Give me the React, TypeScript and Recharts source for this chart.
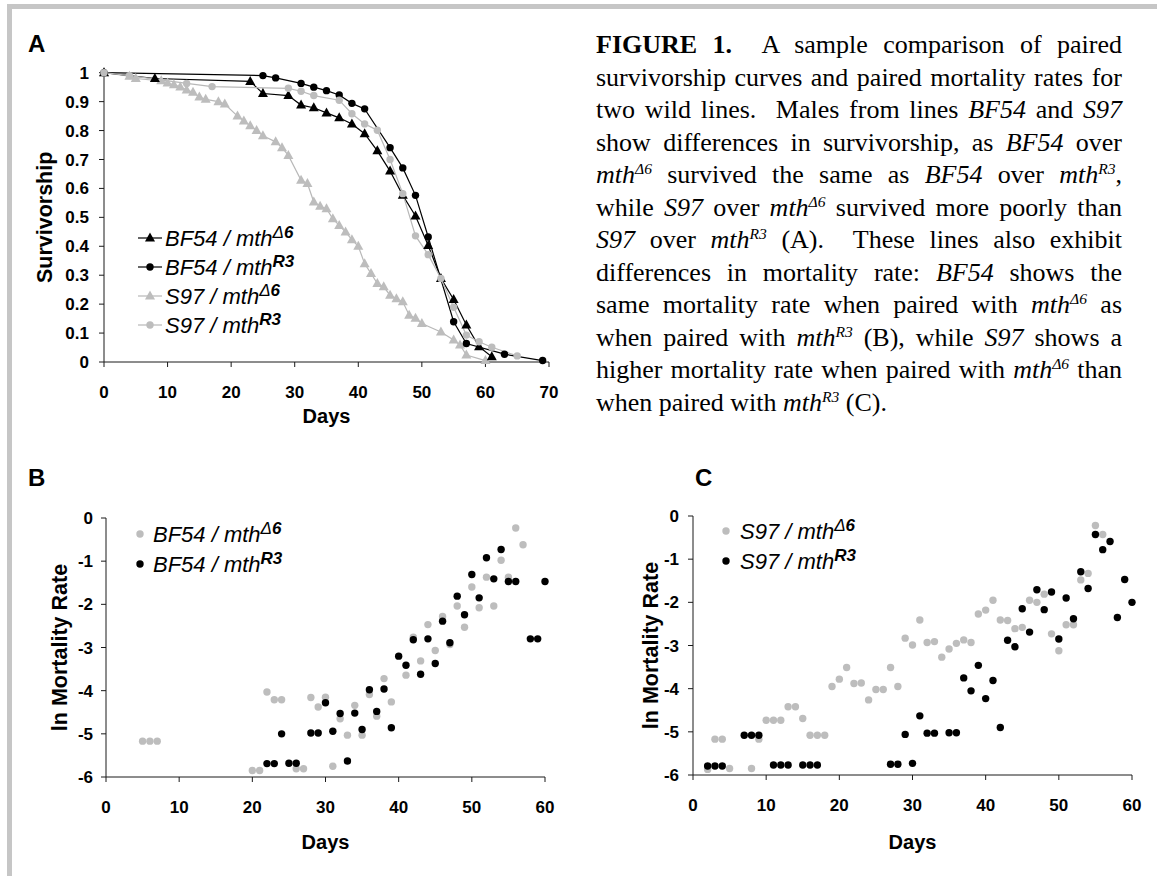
import React from 'react';
import { LineChart, Line, XAxis, YAxis, ScatterChart, Scatter, Legend } from 'recharts';

const FONT = '"Liberation Sans", Arial, Helvetica, sans-serif';
const SERIF = '"Liberation Serif", "Times New Roman", Times, serif';
const BLACK = '#000000';
const GRAY = '#bdbdbd';
const LINE_GRAY = '#b8b8b8';
const AXIS = '#1a1a1a';

// ---------- Panel A: survivorship ----------
const bf54D6Days = [0, 8, 23, 25, 29, 31, 33, 35, 37, 39, 41, 43, 45, 47, 49, 51, 53, 55, 57, 59, 61];
const bf54D6Surv = [1, 0.98, 0.97, 0.928, 0.921, 0.888, 0.879, 0.861, 0.844, 0.823, 0.789, 0.73, 0.66, 0.576, 0.505, 0.403, 0.289, 0.216, 0.128, 0.053, 0.018];

const bf54R3Days = [0, 25, 27, 31, 33, 35, 37, 39, 41, 45, 47, 49, 51, 55, 57, 63, 69];
const bf54R3Surv = [1, 0.99, 0.982, 0.963, 0.95, 0.938, 0.923, 0.894, 0.875, 0.741, 0.671, 0.576, 0.432, 0.139, 0.064, 0.027, 0.005];

const s97D6Days = [0, 4, 5, 9, 10, 11, 12, 13, 14, 15, 16, 18, 19, 21, 22, 23, 24, 25, 27, 28, 29, 31, 32, 33, 34, 35, 36, 37, 38, 39, 40, 41, 42, 43, 44, 45, 46, 47, 48, 49, 50, 53, 55, 56, 57, 60];
const s97D6Surv = [1, 0.988, 0.98, 0.972, 0.964, 0.958, 0.951, 0.94, 0.932, 0.916, 0.908, 0.9, 0.892, 0.85, 0.833, 0.817, 0.8, 0.782, 0.761, 0.741, 0.714, 0.628, 0.617, 0.553, 0.538, 0.53, 0.495, 0.472, 0.449, 0.423, 0.4, 0.34, 0.306, 0.271, 0.26, 0.231, 0.219, 0.208, 0.162, 0.151, 0.133, 0.104, 0.076, 0.059, 0.024, 0.005];

const s97R3Days = [0, 4, 13, 17, 29, 31, 33, 37, 39, 41, 43, 45, 47, 49, 51, 53, 55, 57, 59, 61, 65];
const s97R3Surv = [1, 0.99, 0.963, 0.952, 0.946, 0.936, 0.921, 0.905, 0.858, 0.823, 0.801, 0.7, 0.582, 0.436, 0.371, 0.289, 0.189, 0.093, 0.07, 0.051, 0.021];

const survDayTicks = [0, 10, 20, 30, 40, 50, 60, 70];
const survTicks = [0, 0.1, 0.2, 0.3, 0.4, 0.5, 0.6, 0.7, 0.8, 0.9, 1];

// ---------- Panel B: BF54 ln mortality ----------
const bf54D6MortDays = [5, 6, 7, 20, 21, 22, 23, 24, 26, 27, 28, 29, 30, 31, 32, 33, 34, 35, 36, 37, 38, 39, 41, 42, 43, 44, 45, 46, 47, 48, 49, 50, 51, 52, 53, 54, 55, 56, 57];
const bf54D6Mort = [-5.17, -5.17, -5.17, -5.85, -5.85, -4.03, -4.21, -4.21, -5.81, -5.81, -4.16, -4.38, -4.15, -5.75, -4.65, -5.03, -4.34, -5.03, -4.09, -4.59, -3.72, -4.26, -3.64, -2.76, -3.31, -2.47, -3.07, -2.28, -2.93, -2.04, -2.53, -1.6, -2.08, -1.37, -2.04, -0.98, -1.37, -0.23, -0.62];

const bf54R3MortDays = [22, 23, 24, 25, 26, 28, 29, 30, 31, 32, 33, 34, 35, 36, 37, 38, 39, 40, 41, 42, 43, 44, 45, 46, 47, 48, 49, 50, 51, 52, 53, 54, 55, 56, 58, 59, 60];
const bf54R3Mort = [-5.69, -5.69, -5.0, -5.68, -5.68, -4.98, -4.98, -4.28, -4.94, -4.53, -5.63, -4.52, -4.9, -3.98, -4.48, -3.96, -4.86, -3.2, -3.41, -2.82, -3.62, -2.8, -3.37, -2.39, -2.89, -1.81, -2.24, -1.31, -1.85, -0.92, -1.41, -0.73, -1.47, -1.47, -2.8, -2.8, -1.47];

// ---------- Panel C: S97 ln mortality ----------
const s97D6MortDays = [2, 3, 4, 5, 8, 9, 10, 11, 12, 13, 14, 15, 16, 17, 18, 19, 20, 21, 22, 23, 24, 25, 26, 27, 28, 29, 30, 31, 32, 33, 34, 35, 36, 37, 38, 39, 40, 41, 42, 43, 44, 45, 46, 47, 48, 49, 50, 51, 52, 53, 54, 55, 56];
const s97D6Mort = [-5.87, -5.17, -5.17, -5.85, -5.85, -5.17, -4.73, -4.73, -4.73, -4.42, -4.42, -4.69, -5.08, -5.08, -5.08, -3.95, -3.78, -3.51, -3.88, -3.87, -4.26, -4.02, -4.02, -3.51, -3.95, -2.83, -2.99, -2.41, -2.93, -2.91, -3.27, -3.08, -2.95, -2.87, -2.93, -2.27, -2.18, -1.95, -2.41, -2.42, -2.61, -2.58, -1.95, -2.0, -1.81, -2.73, -3.12, -2.52, -2.52, -1.48, -1.33, -0.22, -0.43];

const s97R3MortDays = [2, 3, 4, 7, 8, 9, 11, 12, 13, 15, 16, 17, 27, 28, 29, 30, 31, 32, 33, 35, 36, 37, 38, 39, 40, 41, 42, 43, 44, 45, 46, 47, 48, 49, 50, 51, 52, 53, 54, 55, 56, 57, 58, 59, 60];
const s97R3Mort = [-5.79, -5.79, -5.79, -5.08, -5.08, -5.08, -5.77, -5.77, -5.77, -5.77, -5.77, -5.77, -5.75, -5.75, -5.06, -5.73, -4.63, -5.03, -5.03, -5.02, -5.02, -3.75, -4.05, -3.46, -4.23, -3.81, -4.9, -2.88, -3.03, -2.15, -2.69, -1.71, -2.17, -1.76, -2.85, -1.9, -2.38, -1.29, -1.68, -0.43, -0.78, -0.59, -2.35, -1.47, -2.0];

const mortDayTicks = [0, 10, 20, 30, 40, 50, 60];
const mortTicks = [-6, -5, -4, -3, -2, -1, 0];

// ---------- Labels ----------
const panelLetters = ['A', 'B', 'C'];
const legendA = [
  { main: 'BF54 / mth', sup: ['\u0394', '6'], color: BLACK, shape: 'triangle' },
  { main: 'BF54 / mth', sup: ['', 'R3'], color: BLACK, shape: 'circle' },
  { main: 'S97 / mth', sup: ['\u0394', '6'], color: LINE_GRAY, shape: 'triangle' },
  { main: 'S97 / mth', sup: ['', 'R3'], color: LINE_GRAY, shape: 'circle' },
];
const legendB = [
  { main: 'BF54 / mth', sup: ['\u0394', '6'], color: GRAY },
  { main: 'BF54 / mth', sup: ['', 'R3'], color: BLACK },
];
const legendC = [
  { main: 'S97 / mth', sup: ['\u0394', '6'], color: GRAY },
  { main: 'S97 / mth', sup: ['', 'R3'], color: BLACK },
];

const zip = (xs: number[], ys: number[]) => xs.map((d, i) => ({ day: d, v: ys[i] }));

const survBf54D6 = zip(bf54D6Days, bf54D6Surv);
const survBf54R3 = zip(bf54R3Days, bf54R3Surv);
const survS97D6 = zip(s97D6Days, s97D6Surv);
const survS97R3 = zip(s97R3Days, s97R3Surv);
const mortBf54D6 = zip(bf54D6MortDays, bf54D6Mort);
const mortBf54R3 = zip(bf54R3MortDays, bf54R3Mort);
const mortS97D6 = zip(s97D6MortDays, s97D6Mort);
const mortS97R3 = zip(s97R3MortDays, s97R3Mort);

const tickStyle = { fontSize: 17, fontWeight: 'bold', fill: '#000', fontFamily: FONT };
const titleStyle = { fontSize: 20, fontWeight: 'bold', fill: '#000', fontFamily: FONT };
const vTitleStyle = { fontSize: 21.5, fontWeight: 'bold', fill: '#000', fontFamily: FONT, textAnchor: 'middle' };

const triPoints = (cx: number, cy: number) => `${cx},${cy - 5.5} ${cx - 5},${cy + 3.5} ${cx + 5},${cy + 3.5}`;

const makeTriangleDot = (color: string) => (props: any) => {
  const { cx, cy, index } = props;
  if (cx == null || cy == null) return <g key={`t-${index}`} />;
  return <polygon key={`t-${index}`} points={triPoints(cx, cy)} fill={color} />;
};
const makeCircleDot = (color: string, r: number) => (props: any) => {
  const { cx, cy, index } = props;
  if (cx == null || cy == null) return <g key={`c-${index}`} />;
  return <circle key={`c-${index}`} cx={cx} cy={cy} r={r} fill={color} />;
};
const makeScatterShape = (color: string) => (props: any) => {
  const { cx, cy } = props;
  return <circle cx={cx} cy={cy} r={3.7} fill={color} />;
};

const SupText = ({ x, y, main, sup }: any) => (
  <text x={x} y={y} fontFamily={FONT} fontStyle="italic" fontSize={22} fill="#000">
    {main}
    {sup[0] ? (
      <>
        <tspan dy={-8} fontSize={17} fontWeight="normal">{sup[0]}</tspan>
        <tspan fontSize={17} fontWeight="bold">{sup[1]}</tspan>
      </>
    ) : (
      <tspan dy={-8} fontSize={17} fontWeight="bold">{sup[1]}</tspan>
    )}
  </text>
);

const SurvLegend = () => (
  <svg width={220} height={120} style={{ overflow: 'visible', display: 'block' }}>
    {legendA.map((r, i) => {
      const cy = 15 + i * 29;
      return (
        <g key={i}>
          <line x1={8} x2={32} y1={cy} y2={cy} stroke={r.color} strokeWidth={1.2} />
          {r.shape === 'triangle' ? (
            <polygon points={triPoints(20, cy)} fill={r.color === BLACK ? BLACK : GRAY} />
          ) : (
            <circle cx={20} cy={cy} r={3.7} fill={r.color === BLACK ? BLACK : GRAY} />
          )}
          <SupText x={35} y={cy + 7.5} main={r.main} sup={r.sup} />
        </g>
      );
    })}
  </svg>
);

const makeDotLegend = (rows: any[], textX: number) => () => (
  <svg width={220} height={60} style={{ overflow: 'visible', display: 'block' }}>
    {rows.map((r, i) => {
      const cy = 15 + i * 30;
      return (
        <g key={i}>
          <circle cx={10} cy={cy} r={3.7} fill={r.color} />
          <SupText x={textX} y={cy + 7.5} main={r.main} sup={r.sup} />
        </g>
      );
    })}
  </svg>
);
const LegendB = makeDotLegend(legendB, 23);
const LegendC = makeDotLegend(legendC, 24);

const captionLines: React.ReactNode[] = [
  <><b>FIGURE 1.</b>{'\u00a0 '}A sample comparison of paired</>,
  <>survivorship curves and paired mortality rates for</>,
  <>two wild lines.{'\u00a0 '}Males from lines <i>BF54</i> and <i>S97</i></>,
  <>show differences in survivorship, as <i>BF54</i> over</>,
  <><i>mth<sup>{'\u0394'}6</sup></i> survived the same as <i>BF54</i> over <i>mth<sup>R3</sup></i>,</>,
  <>while <i>S97</i> over <i>mth<sup>{'\u0394'}6</sup></i> survived more poorly than</>,
  <><i>S97</i> over <i>mth<sup>R3</sup></i> (A).{'\u00a0 '}These lines also exhibit</>,
  <>differences in mortality rate: <i>BF54</i> shows the</>,
  <>same mortality rate when paired with <i>mth<sup>{'\u0394'}6</sup></i> as</>,
  <>when paired with <i>mth<sup>R3</sup></i> (B), while <i>S97</i> shows a</>,
  <>higher mortality rate when paired with <i>mth<sup>{'\u0394'}6</sup></i> than</>,
  <>when paired with <i>mth<sup>R3</sup></i> (C).</>,
];

const letterStyle: React.CSSProperties = {
  position: 'absolute',
  fontFamily: FONT,
  fontWeight: 'bold',
  fontSize: 24,
  lineHeight: '24px',
  color: '#000',
};

export default function App() {
  return (
    <div style={{ position: 'absolute', left: 0, top: 0, width: 1157, height: 876, background: '#fff', overflow: 'hidden' }}>
      <style>{`.cap sup{font-size:0.6em;line-height:0;vertical-align:0.6em;}`}</style>
      <div style={{ position: 'absolute', left: 7, top: 4, width: 1150, height: 5, background: '#c6c6c6' }} />
      <div style={{ position: 'absolute', left: 7, top: 4, width: 5, height: 872, background: '#c6c6c6' }} />

      <div style={{ ...letterStyle, left: 28, top: 32 }}>{panelLetters[0]}</div>
      <div style={{ ...letterStyle, left: 28, top: 466 }}>{panelLetters[1]}</div>
      <div style={{ ...letterStyle, left: 695, top: 466 }}>{panelLetters[2]}</div>

      <div className="cap" style={{ position: 'absolute', left: 596, top: 29, width: 526, fontFamily: SERIF, fontSize: 26, lineHeight: '32.5px', color: '#000' }}>
        {captionLines.map((ln, i) => (
          <div key={i} style={{ textAlign: 'justify', textAlignLast: i === captionLines.length - 1 ? 'left' : 'justify', whiteSpace: 'nowrap' }}>{ln}</div>
        ))}
      </div>

      {/* Panel A */}
      <div style={{ position: 'absolute', left: 0, top: 0 }}>
        <LineChart width={600} height={440} margin={{ top: 72.7, right: 51, bottom: 48, left: 44 }}>
          <XAxis
            type="number"
            dataKey="day"
            domain={[0, 70]}
            ticks={survDayTicks}
            height={30}
            tickSize={5}
            tickMargin={19}
            axisLine={{ stroke: AXIS }}
            tickLine={{ stroke: AXIS }}
            tick={tickStyle}
            label={{ value: 'Days', position: 'bottom', offset: 17, style: titleStyle }}
          />
          <YAxis
            type="number"
            dataKey="v"
            domain={[0, 1]}
            ticks={survTicks}
            width={60}
            tickSize={5}
            tickMargin={10}
            axisLine={{ stroke: AXIS }}
            tickLine={{ stroke: AXIS }}
            tick={tickStyle}
            label={{ value: 'Survivorship', angle: -90, position: 'insideLeft', offset: 0, style: vTitleStyle }}
          />
          <Line data={survS97D6} dataKey="v" type="linear" stroke={LINE_GRAY} strokeWidth={1.2} dot={makeTriangleDot(GRAY)} activeDot={false} isAnimationActive={false} />
          <Line data={survBf54D6} dataKey="v" type="linear" stroke={BLACK} strokeWidth={1.2} dot={makeTriangleDot(BLACK)} activeDot={false} isAnimationActive={false} />
          <Line data={survBf54R3} dataKey="v" type="linear" stroke={BLACK} strokeWidth={1.2} dot={makeCircleDot(BLACK, 3.7)} activeDot={false} isAnimationActive={false} />
          <Line data={survS97R3} dataKey="v" type="linear" stroke={LINE_GRAY} strokeWidth={1.2} dot={makeCircleDot(GRAY, 3.7)} activeDot={false} isAnimationActive={false} />
          <Legend layout="vertical" align="center" verticalAlign="middle" content={SurvLegend} wrapperStyle={{ left: 130, top: 223, width: 220, height: 120 }} />
        </LineChart>
      </div>

      {/* Panel B */}
      <div style={{ position: 'absolute', left: 0, top: 440 }}>
        <ScatterChart width={580} height={430} margin={{ top: 78, right: 35, bottom: 63, left: 46 }}>
          <XAxis
            type="number"
            dataKey="day"
            domain={[0, 60]}
            ticks={mortDayTicks}
            height={30}
            tickSize={5}
            tickMargin={19}
            axisLine={{ stroke: AXIS }}
            tickLine={{ stroke: AXIS }}
            tick={tickStyle}
            label={{ value: 'Days', position: 'bottom', offset: 28, style: titleStyle }}
          />
          <YAxis
            type="number"
            dataKey="v"
            domain={[-6, 0]}
            ticks={mortTicks}
            width={60}
            tickSize={5}
            tickMargin={8}
            axisLine={{ stroke: AXIS }}
            tickLine={{ stroke: AXIS }}
            tick={tickStyle}
            label={{ value: 'ln Mortality Rate', angle: -90, position: 'insideLeft', offset: 13, style: vTitleStyle }}
          />
          <Scatter data={mortBf54D6} shape={makeScatterShape(GRAY)} isAnimationActive={false} />
          <Scatter data={mortBf54R3} shape={makeScatterShape(BLACK)} isAnimationActive={false} />
          <Legend layout="vertical" align="center" verticalAlign="middle" content={LegendB} wrapperStyle={{ left: 130, top: 79, width: 220, height: 60 }} />
        </ScatterChart>
      </div>

      {/* Panel C */}
      <div style={{ position: 'absolute', left: 590, top: 440 }}>
        <ScatterChart width={567} height={430} margin={{ top: 76, right: 25, bottom: 65, left: 43 }}>
          <XAxis
            type="number"
            dataKey="day"
            domain={[0, 60]}
            ticks={mortDayTicks}
            height={30}
            tickSize={5}
            tickMargin={19}
            axisLine={{ stroke: AXIS }}
            tickLine={{ stroke: AXIS }}
            tick={tickStyle}
            label={{ value: 'Days', position: 'bottom', offset: 30, style: titleStyle }}
          />
          <YAxis
            type="number"
            dataKey="v"
            domain={[-6, 0]}
            ticks={mortTicks}
            width={60}
            tickSize={5}
            tickMargin={9}
            axisLine={{ stroke: AXIS }}
            tickLine={{ stroke: AXIS }}
            tick={tickStyle}
            label={{ value: 'ln Mortality Rate', angle: -90, position: 'insideLeft', offset: 17, style: vTitleStyle }}
          />
          <Scatter data={mortS97D6} shape={makeScatterShape(GRAY)} isAnimationActive={false} />
          <Scatter data={mortS97R3} shape={makeScatterShape(BLACK)} isAnimationActive={false} />
          <Legend layout="vertical" align="center" verticalAlign="middle" content={LegendC} wrapperStyle={{ left: 126, top: 76, width: 220, height: 60 }} />
        </ScatterChart>
      </div>
    </div>
  );
}
